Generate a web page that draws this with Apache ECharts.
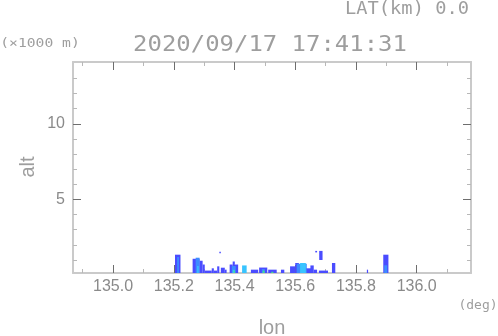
<!DOCTYPE html>
<html>
<head>
<meta charset="utf-8">
<script src="https://cdn.jsdelivr.net/npm/echarts@6/dist/echarts.min.js"></script>
<style>
  html, body { margin: 0; padding: 0; background: #fff; }
  #chart { width: 498px; height: 336px; }
</style>
</head>
<body>
<div id="chart"></div>
<script>
// axis ticks (deg / km)
const lonMajor = [135.0, 135.2, 135.4, 135.6, 135.8, 136.0]
const lonMinor = [134.9, 135.1, 135.3, 135.5, 135.7, 135.9, 136.1]
const altMajor = [5, 10]
const altMinor = [1, 2, 3, 4, 6, 7, 8, 9, 11, 12, 13]

// echo cells: lon range, alt range (km), intensity level
const cellLon0 = [135.204, 135.262, 135.285, 135.295, 135.302, 135.325, 135.332, 135.343, 135.350, 135.355,
  135.368, 135.384, 135.394, 135.401, 135.454, 135.481, 135.511, 135.553, 135.583, 135.600,
  135.635, 135.650, 135.661, 135.666, 135.679, 135.678, 135.721, 135.836, 135.890,
  135.211, 135.272, 135.391, 135.425, 135.490, 135.605, 135.893,
  135.277, 135.394, 135.616,
  135.493, 135.521, 135.397]
const cellLon1 = [135.222, 135.285, 135.295, 135.302, 135.325, 135.332, 135.343, 135.350, 135.355, 135.368,
  135.374, 135.394, 135.401, 135.412, 135.478, 135.508, 135.539, 135.564, 135.600, 135.612,
  135.652, 135.661, 135.672, 135.672, 135.690, 135.708, 135.732, 135.840, 135.907,
  135.217, 135.285, 135.404, 135.440, 135.500, 135.638, 135.903,
  135.282, 135.401, 135.635,
  135.499, 135.528, 135.401]
const cellAlt0 = [0.14, 0.14, 0.14, 0.14, 0.14, 0.14, 0.14, 0.14, 1.45, 0.14,
  0.14, 0.14, 0.14, 0.14, 0.14, 0.14, 0.14, 0.14, 0.14, 0.14,
  0.14, 0.14, 0.14, 1.5, 1.0, 0.14, 0.14, 0.14, 0.14,
  0.14, 0.14, 0.14, 0.14, 0.14, 0.14, 0.14,
  0.14, 0.14, 0.14,
  0.14, 0.14, 0.14]
const cellAlt1 = [1.35, 1.08, 0.95, 0.7, 0.3, 0.45, 0.3, 0.58, 1.55, 0.49,
  0.36, 0.7, 0.9, 0.7, 0.36, 0.5, 0.36, 0.36, 0.58, 0.8,
  0.45, 0.64, 0.36, 1.6, 1.6, 0.3, 0.8, 0.36, 1.35,
  1.2, 1.15, 0.6, 0.64, 0.4, 0.75, 0.65,
  0.6, 0.35, 0.8,
  0.3, 0.22, 0.3]
const cellLevel = [0, 0, 0, 0, 0, 0, 0, 0, 0, 0,
  0, 0, 0, 0, 0, 0, 0, 0, 0, 0,
  0, 0, 0, 0, 0, 0, 0, 0, 0,
  1, 1, 1, 2, 1, 1, 1,
  2, 2, 2,
  3, 3, 3]

const levelColors = ['#4a4cff', '#3c8cff', '#38c4ff', '#40e08a']

const cells = cellLon0.map((v, i) => [v, cellLon1[i], cellAlt0[i], cellAlt1[i], cellLevel[i]])

const LINE = '#cacaca'
const DARK = '#6e6e6e'
const LIGHT = '#b8b8b8'
const TXT = '#8a8a8a'
const TXT_LIGHT = '#9e9e9e'

const xBase = {
  type: 'value', min: 134.868, max: 136.179,
  splitLine: { show: false },
  axisLine: { show: true, lineStyle: { color: LINE, width: 2 } }
}
const yBase = {
  type: 'value', min: 0.14, max: 14.08,
  splitLine: { show: false },
  axisLine: { show: true, lineStyle: { color: LINE, width: 2 } }
}

const majorX = (pos, labels) => Object.assign({}, xBase, {
  position: pos,
  axisTick: { show: true, inside: true, length: 8, customValues: lonMajor, lineStyle: { color: DARK, width: 1 } },
  axisLabel: labels
    ? { show: true, customValues: lonMajor, margin: 6, color: TXT, fontFamily: 'Liberation Sans', fontSize: 16, formatter: v => v.toFixed(1) }
    : { show: false }
})
const minorX = pos => Object.assign({}, xBase, {
  position: pos,
  axisLine: { show: false },
  axisTick: { show: true, inside: true, length: 4, customValues: lonMinor, lineStyle: { color: LIGHT, width: 1 } },
  axisLabel: { show: false }
})
const majorY = (pos, labels) => Object.assign({}, yBase, {
  position: pos,
  axisTick: { show: true, inside: true, length: 8, customValues: altMajor, lineStyle: { color: DARK, width: 1 } },
  axisLabel: labels
    ? { show: true, customValues: altMajor, margin: 8, color: TXT, fontFamily: 'Liberation Sans', fontSize: 16 }
    : { show: false }
})
const minorY = pos => Object.assign({}, yBase, {
  position: pos,
  axisLine: { show: false },
  axisTick: { show: true, inside: true, length: 4, customValues: altMinor, lineStyle: { color: LIGHT, width: 1 } },
  axisLabel: { show: false }
})

const renderCell = (params, api) => {
  const p0 = api.coord([api.value(0), api.value(3)])
  const p1 = api.coord([api.value(1), api.value(2)])
  return {
    type: 'rect',
    shape: { x: p0[0], y: p0[1], width: p1[0] - p0[0], height: p1[1] - p0[1] },
    style: { fill: levelColors[api.value(4)] }
  }
}

const txt = (text, x, y, size, family, extra) => Object.assign({
  type: 'text', x, y,
  style: { text, fill: TXT_LIGHT, font: size + 'px "' + family + '"', textAlign: 'center', textVerticalAlign: 'middle' }
}, extra || {})

const chart = echarts.init(document.getElementById('chart'))
chart.setOption({
  animation: false,
  grid: { left: 73, right: 27, top: 62, bottom: 63 },
  xAxis: [majorX('bottom', true), minorX('bottom'), majorX('top', false), minorX('top')],
  yAxis: [majorY('left', true), minorY('left'), majorY('right', false), minorY('right')],
  series: [{
    type: 'custom',
    xAxisIndex: 0,
    yAxisIndex: 0,
    renderItem: renderCell,
    encode: { x: [0, 1], y: [2, 3] },
    clip: true,
    data: cells
  }],
  graphic: [
    txt('2020/09/17 17:41:31', 270, 46, 21, 'DejaVu Sans Mono', { scaleX: 1.14 }),
    txt('LAT(km) 0.0', 407, 10, 17, 'DejaVu Sans Mono', { scaleX: 1.1 }),
    txt('(×1000 m)', 40, 44, 13, 'DejaVu Sans Mono', { scaleX: 1.13 }),
    txt('(deg)', 478, 306, 13, 'DejaVu Sans Mono', { scaleX: 1.0 }),
    txt('lon', 272, 328, 20, 'Liberation Sans'),
    txt('alt', 28, 167, 20, 'Liberation Sans', { rotation: Math.PI / 2 })
  ]
})
</script>
</body>
</html>
